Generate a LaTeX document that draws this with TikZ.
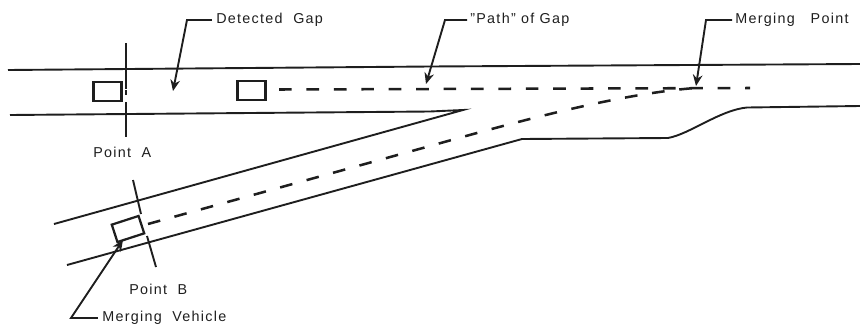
\documentclass[tikz,border=0pt]{standalone}
\usepackage{fontspec}
\setmainfont{Liberation Sans}[LetterSpace=9]
\usetikzlibrary{positioning, arrows.meta, calc}
\definecolor{inkdark}{RGB}{30, 30, 30}
\tikzset{
  road/.style={draw=inkdark, line width=1.35pt},
  bar/.style={draw=inkdark, line width=1.35pt},
  veh/.style={draw=inkdark, line width=1.6pt, minimum width=20pt, minimum height=13pt, inner sep=0pt},
  pth/.style={draw=inkdark, line width=1.8pt, dash pattern=on 9pt off 10.5pt},
  arr/.style={draw=inkdark, line width=1.35pt, -{Stealth[length=2.8mm, width=2.4mm]}},
  lbl/.style={font=\fontsize{10.2}{12}\selectfont, text=inkdark, anchor=west, inner sep=0pt},
}
\begin{document}
\begin{tikzpicture}[x=0.025cm, y=-0.025cm]
  \useasboundingbox (0,0) rectangle (860,323);

  % main road
  \draw[road] (8,70) -- (430,66.5) -- (860,64);
  \draw[road] (10,115) -- (430,111.5) -- (463,110) -- (54,224);

  % ramp and lane drop
  \draw[road] (67,265) -- (522,139) -- (668,138)
    .. controls (690,134) and (720,110) .. (747,107.5) -- (860,106);

  % vehicles
  \node[veh] (carA) at (107.5,91.5) {};
  \node[veh] (cargap) at (251.5,90.5) {};
  \node[veh, rotate=18] (carB) at (128,229) {};

  % section bars
  \draw[bar] (126,43) -- (126,89);
  \draw[bar] (126,102) -- (126,137);
  \draw[line width=2pt, inkdark] (126,90) -- (126,95);
  \draw[bar] (133,180) -- (141,214);
  \draw[bar] (147,236) -- (156,267);

  % paths
  \draw[pth] (279,89.5) -- (750,88);
  \draw[pth] (148,224) -- (430,146) .. controls (530,118) and (620,94) .. (695,88);

  % labels
  \node[lbl] (gaplbl) at (216,20) {Detected\ \ Gap};
  \node[lbl] (pathlbl) at (470,20) {"Path" of Gap};
  \node[lbl] (mergelbl) at (735,20) {Merging\ \ \ Point};
  \node[lbl] (vehlbl) at (102,318) {Merging\ \ Vehicle};
  \node[lbl] (ptA) at (93,152) {Point\ \ A};
  \node[lbl] (ptB) at (129,289) {Point\ \ B};

  % leaders
  \coordinate (gaptip) at (173,91);
  \coordinate (pathtip) at (426,84);
  \coordinate (mergetip) at (696,86);
  \coordinate (vehtip) at (123,240);
  \draw[arr] ([xshift=-3pt]gaplbl.west) -- (187,20) -- (gaptip);
  \draw[arr] ([xshift=-2pt]pathlbl.west) -- (445,20) -- (pathtip);
  \draw[arr] ([xshift=-2pt]mergelbl.west) -- (706,20) -- (mergetip);
  \draw[arr] ([xshift=-3pt]vehlbl.west) -- (71,318) -- (vehtip);
\end{tikzpicture}
\end{document}
